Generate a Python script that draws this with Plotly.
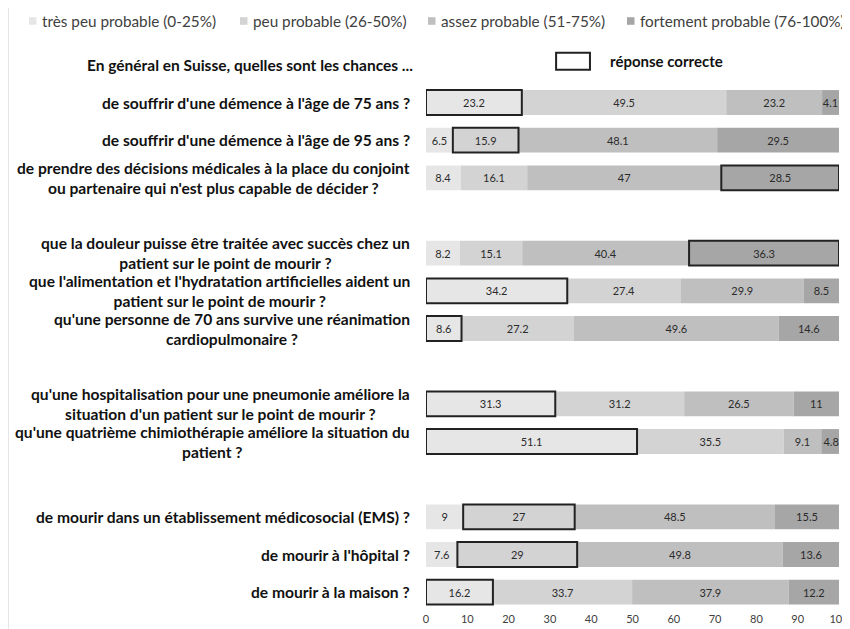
import plotly.graph_objects as go

categories = ["très peu probable (0-25%)", "peu probable (26-50%)",
              "assez probable (51-75%)", "fortement probable (76-100%)"]

questions = [
    "de souffrir d'une démence à l'âge de 75 ans ?",
    "de souffrir d'une démence à l'âge de 95 ans ?",
    "de prendre des décisions médicales à la place du conjoint<br>ou partenaire qui n'est plus capable de décider ?",
    "que la douleur puisse être traitée avec succès chez un<br>patient sur le point de mourir ?",
    "que l'alimentation et l'hydratation artificielles aident un<br>patient sur le point de mourir ?",
    "qu'une personne de 70 ans survive une réanimation<br>cardiopulmonaire ?",
    "qu'une hospitalisation pour une pneumonie améliore la<br>situation d'un patient sur le point de mourir ?",
    "qu'une quatrième chimiothérapie améliore la situation du<br>patient ?",
    "de mourir dans un établissement médicosocial (EMS) ?",
    "de mourir à l'hôpital ?",
    "de mourir à la maison ?",
]
group_sizes = [3, 3, 2, 3]

tres_peu = [23.2, 6.5, 8.4, 8.2, 34.2, 8.6, 31.3, 51.1, 9, 7.6, 16.2]
peu = [49.5, 15.9, 16.1, 15.1, 27.4, 27.2, 31.2, 35.5, 27, 29, 33.7]
assez = [23.2, 48.1, 47, 40.4, 29.9, 49.6, 26.5, 9.1, 48.5, 49.8, 37.9]
fortement = [4.1, 29.5, 28.5, 36.3, 8.5, 14.6, 11, 4.8, 15.5, 13.6, 12.2]
correct_index = [0, 1, 3, 3, 0, 0, 0, 0, 1, 1, 0]

header = "En général en Suisse, quelles sont les chances ..."
correct_label = "réponse correcte"
x_ticks = [0, 10, 20, 30, 40, 50, 60, 70, 80, 90, 100]

colors = ["#e6e6e6", "#d3d3d3", "#bfbfbf", "#a6a6a6"]
FONT = "Lato"

# the page adds an 8 px body margin, so the figure is drawn 8 px smaller
OFF = 8
W, H = 850 - OFF, 629 - OFF
ML, MR, MT, MB = 426 - OFF, 11, 46 - OFF, 18
PW, PH = W - ML - MR, H - MT - MB


def px2x(px):
    return (px - OFF - ML) / PW


def px2y(py):
    return (H - MB - (py - OFF)) / PH


# row positions: one empty slot between groups, slot 0 holds the header
pos = []
p = 1
for g in group_sizes:
    for _ in range(g):
        pos.append(p)
        p += 1
    p += 1

series = [tres_peu, peu, assez, fortement]
bases = []
run = [0.0] * len(questions)
for s in series:
    bases.append(list(run))
    run = [r + v for r, v in zip(run, s)]

fig = go.Figure()
BW = 0.66
for name, s, b, c in zip(categories, series, bases, colors):
    fig.add_trace(go.Bar(
        y=pos, x=s, base=b, orientation="h", name=name, width=BW,
        marker=dict(color=c, line=dict(width=0)),
        text=[f"{v:g}" for v in s], textposition="inside",
        insidetextanchor="middle", textangle=0, constraintext="none",
        textfont=dict(family=FONT, size=11, color="#2b2b2b"),
        hoverinfo="skip", showlegend=False,
    ))

# outline of the correct answer segment
ox = [series[ci][i] for i, ci in enumerate(correct_index)]
ob = [bases[ci][i] for i, ci in enumerate(correct_index)]
fig.add_trace(go.Bar(
    y=pos, x=ox, base=ob, orientation="h", width=BW, showlegend=False,
    marker=dict(color="rgba(0,0,0,0)", line=dict(color="#222222", width=2)),
    hoverinfo="skip",
))

annotations = []
shapes = []
for q, yp in zip(questions, pos):
    annotations.append(dict(
        text=q, x=0, xref="paper", xshift=-14, xanchor="right",
        y=yp, yref="y", yanchor="middle", align="center", showarrow=False,
        font=dict(family=FONT, size=15.6, color="#111111", weight="bold"),
    ))
annotations.append(dict(
    text=header, x=0, xref="paper", xshift=-11, xanchor="right",
    y=0, yref="y", yanchor="middle", align="right", showarrow=False,
    font=dict(family=FONT, size=15.5, color="#111111", weight="bold"),
))
annotations.append(dict(
    text=correct_label, x=44, xref="x", xanchor="left",
    y=-0.1, yref="y", yanchor="middle", showarrow=False,
    font=dict(family=FONT, size=15, color="#111111", weight="bold"),
))
shapes.append(dict(type="rect", xref="x", yref="y", x0=31.5, x1=39.7, y0=-0.32, y1=0.13,
                   line=dict(color="#222222", width=2), fillcolor="rgba(0,0,0,0)"))

# legend row (swatches + labels)
legend_swatch_px = [29, 240, 428, 627]
legend_y_px = 21
for name, c, sx in zip(categories, colors, legend_swatch_px):
    shapes.append(dict(type="rect", xref="paper", yref="paper",
                       x0=px2x(sx), x1=px2x(sx + 7.5),
                       y0=px2y(legend_y_px + 3.8), y1=px2y(legend_y_px - 3.8),
                       line=dict(width=0), fillcolor=c))
    annotations.append(dict(
        text=name, x=px2x(sx + 11), xref="paper", xanchor="left",
        y=px2y(legend_y_px), yref="paper", yanchor="middle", showarrow=False,
        font=dict(family=FONT, size=15.3, color="#404040"),
    ))

# faint frame line on the left edge
shapes.append(dict(type="line", xref="paper", yref="paper", x0=px2x(8.5), x1=px2x(8.5),
                   y0=px2y(629), y1=px2y(8), line=dict(color="#e6e6e6", width=1)))

fig.update_layout(
    width=W, height=H,
    margin=dict(l=ML, r=MR, t=MT, b=MB, autoexpand=False),
    paper_bgcolor="white", plot_bgcolor="white",
    barmode="overlay",
    font=dict(family=FONT, color="#404040"),
    showlegend=False,
    xaxis=dict(range=[0, 100], tickvals=x_ticks, showgrid=False, zeroline=False,
               showline=False, ticks="", tickfont=dict(family=FONT, size=11, color="#404040")),
    yaxis=dict(range=[14.5, -0.5], showticklabels=False, showgrid=False,
               zeroline=False, showline=False, ticks=""),
    annotations=annotations,
    shapes=shapes,
)

fig.write_html("out.html")
